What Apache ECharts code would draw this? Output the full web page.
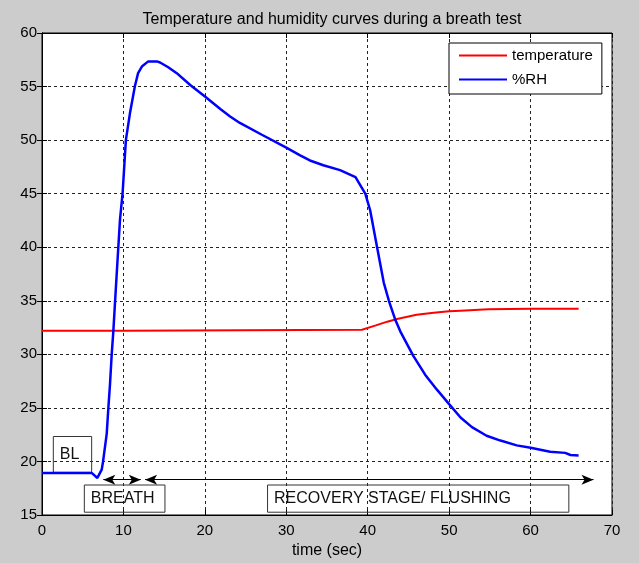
<!DOCTYPE html>
<html>
<head>
<meta charset="utf-8">
<script src="https://cdn.jsdelivr.net/npm/echarts@6/dist/echarts.min.js"></script>
<style>
html,body{margin:0;padding:0;background:#cccccc;}
#c{width:639px;height:563px;}
</style>
</head>
<body>
<div id="c"></div>
<script>
// ---- data ----
const titleText = 'Temperature and humidity curves during a breath test';
const xLabel = 'time (sec)';
const seriesNames = ['temperature', '%RH'];

const tempTime = [0, 10, 10.2, 39.3, 41, 42.4, 43.6, 46, 48.1, 50, 51.4, 54.8, 60, 65.9];
const tempVal  = [32.2, 32.2, 32.3, 32.3, 32.7, 33.05, 33.3, 33.7, 33.88, 34.02, 34.08, 34.2, 34.25, 34.25];

const rhTime = [0, 6.1, 6.8, 7.33, 7.5, 7.95, 8.15, 8.35, 8.56, 8.76, 8.97, 9.3, 9.58, 9.9, 10.3, 10.8, 11.4, 11.8, 12.3, 13.05, 14.1, 14.5, 15.5, 16.55, 18.2, 20.05, 21.9, 23.1, 24.3, 27, 30, 31.7, 32.9, 34.55, 36.6, 38.5, 39.7, 40.3, 41.15, 41.97, 42.6, 43.4, 44.0, 45.6, 47.05, 48.5, 50.0, 51.4, 52.8, 54.6, 56.3, 58.3, 60, 62.4, 64.25, 64.9, 65.9];
const rhVal  = [18.93, 18.93, 18.46, 19.23, 20, 22.6, 25, 27.2, 30, 32.15, 34.9, 39.1, 42.6, 45.06, 50, 52.5, 55, 56.25, 56.9, 57.35, 57.35, 57.25, 56.8, 56.25, 55.15, 54.05, 52.9, 52.2, 51.6, 50.5, 49.3, 48.58, 48.1, 47.65, 47.2, 46.55, 45.0, 43.45, 40.0, 36.7, 35.0, 33.2, 32.15, 29.85, 28.1, 26.7, 25.35, 24.1, 23.2, 22.4, 21.95, 21.5, 21.28, 20.9, 20.8, 20.6, 20.55];

// annotation boxes in data units
const boxLabels = ['BL', 'BREATH', 'RECOVERY STAGE/ FLUSHING'];
const boxX1 = [1.39, 5.2, 27.7];
const boxX2 = [6.1, 15.1, 64.7];
const boxY1 = [18.98, 15.26, 15.26];
const boxY2 = [22.33, 17.8, 17.8];
// arrows (double-headed): tip positions
const arrowX1 = [7.53, 12.66];
const arrowX2 = [12.13, 67.73];
const arrowY  = [18.3, 18.3];

const xTicks = {min: 0, max: 70, interval: 10};
const yTicks = {min: 15, max: 60, interval: 5};

// ---- build ----
const FONT = "'Liberation Sans', Arial, sans-serif";
const tempData = tempTime.map((t, i) => [t, tempVal[i]]);
const rhData = rhTime.map((t, i) => [t, rhVal[i]]);

const boxData = boxLabels.map((name, i) => [
  {name: name, coord: [boxX1[i], boxY2[i]]},
  {coord: [boxX2[i], boxY1[i]]}
]);
const arrowData = arrowX1.map((x, i) => [
  {coord: [x, arrowY[i]]},
  {coord: [arrowX2[i], arrowY[i]]}
]);
const arrowHead = 'path://M5,0 L10,12 L5,9 L0,12 Z';

const chart = echarts.init(document.getElementById('c'), null, {renderer: 'canvas'});
const grid = {left: 42, right: 27, top: 33, bottom: 48, containLabel: false,
  outerBoundsMode: 'none',
  show: true, backgroundColor: '#ffffff', borderColor: '#000', borderWidth: 1};

const gridDash = {show: true, lineStyle: {color: '#222', type: [3, 3], width: 1}};
const axLine = {show: true, lineStyle: {color: '#000', width: 1}};
const tick = {show: true, inside: true, length: 5, lineStyle: {color: '#000'}};

chart.setOption({
  backgroundColor: '#cccccc',
  animation: false,
  textStyle: {fontFamily: FONT},
  title: {
    text: titleText, left: 327, top: 7, textAlign: 'center',
    textStyle: {fontFamily: FONT, fontSize: 16, fontWeight: 'normal', color: '#000'}
  },
  legend: {
    data: seriesNames, orient: 'vertical', left: 449, top: 43,
    padding: [5, 9, 7, 10], itemGap: 9, itemWidth: 48, itemHeight: 2,
    icon: 'rect', backgroundColor: '#fff', borderColor: '#000', borderWidth: 1,
    textStyle: {fontFamily: FONT, fontSize: 15, color: '#000'}
  },
  grid: grid,
  xAxis: [{
    type: 'value', min: xTicks.min, max: xTicks.max, interval: xTicks.interval,
    name: xLabel, nameLocation: 'middle', nameGap: 28,
    nameTextStyle: {fontFamily: FONT, fontSize: 16, color: '#000'},
    axisLine: axLine, axisTick: tick, splitLine: gridDash,
    axisLabel: {fontFamily: FONT, fontSize: 15, color: '#000', margin: 8}
  }, {
    type: 'value', position: 'top', min: xTicks.min, max: xTicks.max, interval: xTicks.interval,
    axisLine: axLine, axisTick: tick, splitLine: {show: false}, axisLabel: {show: false}
  }],
  yAxis: [{
    type: 'value', min: yTicks.min, max: yTicks.max, interval: yTicks.interval,
    axisLine: axLine, axisTick: tick, splitLine: gridDash,
    axisLabel: {fontFamily: FONT, fontSize: 15, color: '#000', margin: 5}
  }, {
    type: 'value', position: 'right', min: yTicks.min, max: yTicks.max, interval: yTicks.interval,
    axisLine: axLine, axisTick: tick, splitLine: {show: false}, axisLabel: {show: false}
  }],
  series: [{
    name: seriesNames[0], type: 'line', data: tempData, showSymbol: false,
    lineStyle: {color: '#ff0000', width: 2}, itemStyle: {color: '#ff0000'}, z: 3,
    markArea: {
      silent: true,
      itemStyle: {color: 'rgba(0,0,0,0)', borderColor: '#333', borderWidth: 1},
      label: {show: true, position: 'insideLeft', distance: 7, fontFamily: FONT, fontSize: 16, color: '#111'},
      data: boxData
    },
    markLine: {
      silent: true, animation: false,
      symbol: [arrowHead, arrowHead], symbolSize: [10, 12],
      symbolOffset: [[0, 6], [0, 6]],
      lineStyle: {color: '#000', width: 1, type: 'solid'},
      label: {show: false},
      data: arrowData
    }
  }, {
    name: seriesNames[1], type: 'line', data: rhData, showSymbol: false,
    lineStyle: {color: '#0000ff', width: 2.5}, itemStyle: {color: '#0000ff'}, z: 4
  }]
});
</script>
</body>
</html>
